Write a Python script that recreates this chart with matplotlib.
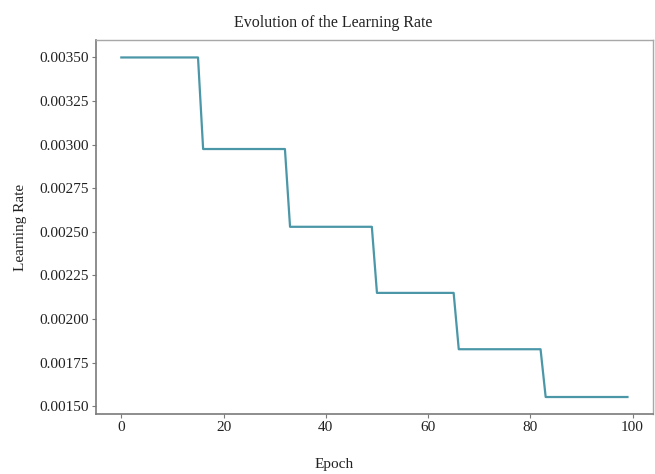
import numpy as np
import matplotlib
matplotlib.use("Agg")
import matplotlib.pyplot as plt
from matplotlib.ticker import MultipleLocator, FormatStrFormatter

plt.rcParams["font.family"] = ["Liberation Serif", "DejaVu Serif"]

# step schedule: first epoch of each step and its learning rate
step_start = [0, 16, 33, 50, 66, 83]
step_lr = [0.00350, 0.002975, 0.002529, 0.00215, 0.001827, 0.001553]
n_epochs = 100

LINE = "#4b97a8"
SPINE_DARK = "#7a7a7a"
SPINE_LIGHT = "#a8a8a8"
TEXT = "#222222"

counts = np.diff(step_start + [n_epochs])
epochs = np.arange(n_epochs)
lr = np.repeat(step_lr, counts)

fig = plt.figure(figsize=(6.55, 4.74), dpi=100)
ax = fig.add_axes([0.1466, 0.1266, 0.850, 0.788])

ax.plot(epochs, lr, color=LINE, lw=1.6)

ax.xaxis.set_major_locator(MultipleLocator(20))
ax.yaxis.set_major_locator(MultipleLocator(0.00025))
ax.yaxis.set_major_formatter(FormatStrFormatter("%.5f"))

for side in ["left", "bottom"]:
    ax.spines[side].set_color(SPINE_DARK)
    ax.spines[side].set_linewidth(1.2)
for side in ["top", "right"]:
    ax.spines[side].set_color(SPINE_LIGHT)
    ax.spines[side].set_linewidth(1.0)

ax.tick_params(axis="both", direction="out", length=3, width=0.8,
               color=SPINE_DARK, labelsize=11, labelcolor=TEXT, pad=2)

fig.text(333 / 655, 1 - 27 / 474, "Evolution of the Learning Rate",
         ha="center", va="baseline", fontsize=11.5, color=TEXT)
fig.text(334 / 655, 1 - 468 / 474, "Epoch",
         ha="center", va="baseline", fontsize=11, color=TEXT)
fig.text(21 / 655, 1 - 227 / 474, "Learning Rate", rotation=90,
         ha="center", va="center", fontsize=11, color=TEXT)

fig.savefig("out.png", dpi=100, facecolor="white")
plt.close(fig)
